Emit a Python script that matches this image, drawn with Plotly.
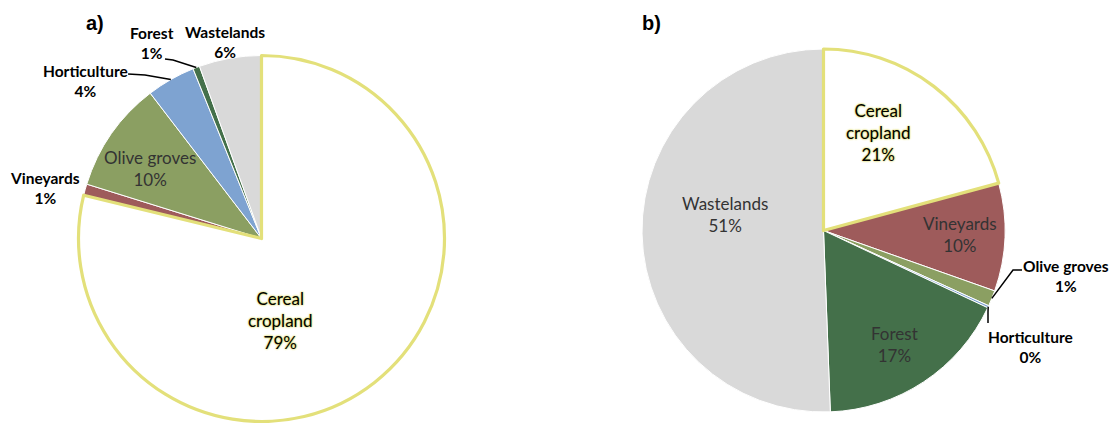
import math
import plotly.graph_objects as go

# ---------------- data ----------------
categories = ["Cereal cropland", "Vineyards", "Olive groves", "Horticulture", "Forest", "Wastelands"]
values_a = [78.8, 1.0, 9.8, 4.3, 0.6, 5.5]
values_b = [20.8, 9.6, 1.4, 0.2, 17.4, 50.6]
panel_titles = ["a)", "b)"]

colors = {
    "Cereal cropland": "#ffffff",
    "Vineyards": "#9e5b5b",
    "Olive groves": "#8b9f62",
    "Horticulture": "#7ea3d1",
    "Forest": "#44704a",
    "Wastelands": "#d9d9d9",
}
YELLOW = "#e3e07a"

W, H = 1111, 423

def px_x(x):
    return x / W

def px_y(y):
    return 1 - y / H

# pie geometry in pixels (centre x, centre y, radius)
geo_a = (261.5, 238.5, 183.0)
geo_b = (823.5, 230.5, 181.5)


def make_pie(values, geo):
    cx, cy, r = geo
    # draw cereal last so its yellow outline sits on top
    order = [1, 2, 3, 4, 5, 0]
    labs = [categories[i] for i in order]
    vals = [values[i] for i in order]
    total = sum(values)
    rot = 360.0 * values[0] / total
    return go.Pie(
        labels=labs,
        values=vals,
        sort=False,
        direction="clockwise",
        rotation=rot,
        textinfo="none",
        hoverinfo="skip",
        showlegend=False,
        marker=dict(
            colors=[colors[l] for l in labs],
            line=dict(
                color=[YELLOW if l == "Cereal cropland" else "#ffffff" for l in labs],
                width=[3.2 if l == "Cereal cropland" else 1 for l in labs],
            ),
        ),
        domain=dict(
            x=[px_x(cx - r), px_x(cx + r)],
            y=[px_y(cy + r), px_y(cy - r)],
        ),
    )


def edge_point(values, geo, idx):
    """Point on the rim at the mid-angle of slice idx (clockwise from 12 o'clock)."""
    cx, cy, r = geo
    total = sum(values)
    start = sum(values[:idx]) / total
    mid = (start + values[idx] / total / 2) * 2 * math.pi
    return cx + r * math.sin(mid), cy - r * math.cos(mid)


fig = go.Figure()
fig.add_trace(make_pie(values_a, geo_a))
fig.add_trace(make_pie(values_b, geo_b))

FONT = "Lato"
glow_white = "0 0 2px #ffffff, 0 0 2px #ffffff"
glow_yellow = "0 0 2px #d9d65a, 0 0 2px #d9d65a"

# label layout: (category index, centre px, style)
labels_a = [
    (0, (280, 320), "cereal"),
    (2, (150, 168), "inner"),
    (1, (45, 188), "outer"),
    (3, (85, 81), "outer"),
    (4, (152, 43), "outer"),
    (5, (225, 42), "outer"),
]
labels_b = [
    (0, (878, 132), "cereal"),
    (1, (960, 234), "inner"),
    (2, (1066, 276), "outer"),
    (3, (1030, 347), "outer"),
    (4, (895, 344), "inner"),
    (5, (725, 215), "inner"),
]


def add_labels(values, specs):
    for idx, (x, y), style in specs:
        name = categories[idx]
        pct = f"{round(values[idx])}%"
        if style == "cereal":
            text = name.replace(" ", "<br>") + "<br>" + pct
            font = dict(family=FONT, size=17, color="#000000", shadow=glow_yellow)
        elif style == "inner":
            text = name + "<br>" + pct
            font = dict(family=FONT, size=17, color="#333333")
        else:
            text = name + "<br>" + pct
            font = dict(family=FONT, size=15.5, color="#000000", weight="bold", shadow=glow_white)
        fig.add_annotation(
            x=px_x(x), y=px_y(y), xref="paper", yref="paper",
            text=text, showarrow=False, xanchor="center", yanchor="middle",
            font=font, align="center",
        )


add_labels(values_a, labels_a)
add_labels(values_b, labels_b)

# leader lines: label anchor -> elbow -> rim point of the slice
leaders = [
    (values_a, geo_a, 4, [(165, 59), (173, 60)]),
    (values_a, geo_a, 3, [(128, 74), (145, 75)]),
    (values_b, geo_b, 2, [(1022, 270), (1013, 270)]),
    (values_b, geo_b, 3, [(988, 323), (988, 312)]),
]
for vals, geo, idx, pts in leaders:
    ex, ey = edge_point(vals, geo, idx)
    allpts = pts + [(ex, ey)]
    path = "M " + " L ".join(f"{px_x(a):.5f},{px_y(b):.5f}" for a, b in allpts)
    fig.add_shape(type="path", path=path, xref="paper", yref="paper",
                  line=dict(color="#000000", width=1.5))

# panel titles
for t, (x, y) in zip(panel_titles, [(95, 23), (652, 23)]):
    fig.add_annotation(x=px_x(x), y=px_y(y), xref="paper", yref="paper", text=t,
                       showarrow=False, xanchor="center", yanchor="middle",
                       font=dict(family="Liberation Sans", size=20, color="#000000", weight="bold"))

fig.update_layout(
    width=W, height=H,
    margin=dict(l=0, r=0, t=0, b=0),
    paper_bgcolor="#ffffff",
    plot_bgcolor="#ffffff",
    hovermode=False,
)
fig.write_html(
    "out.html",
    config={"displayModeBar": False, "staticPlot": True},
    post_script="document.body.style.margin='0';document.body.style.overflow='hidden';",
)
